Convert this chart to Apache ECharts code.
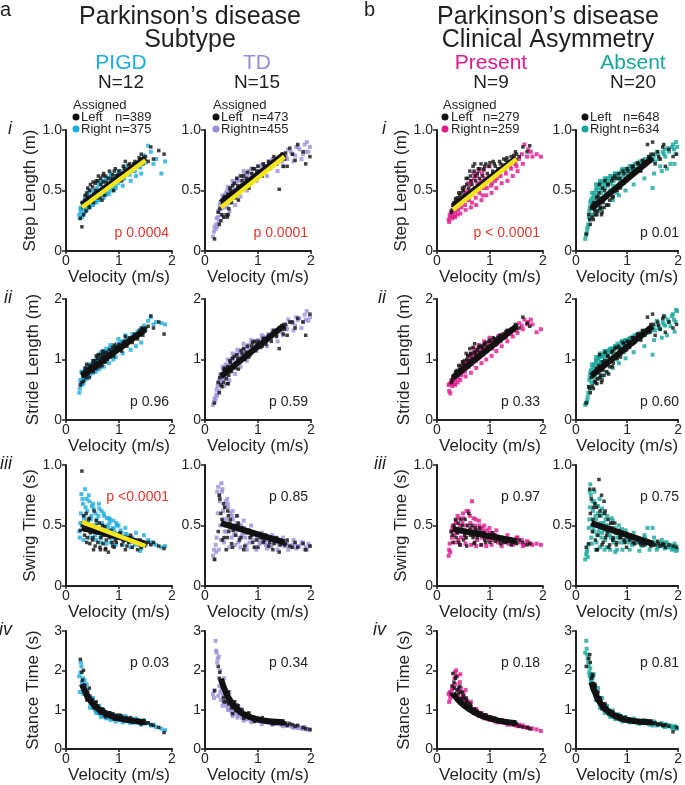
<!DOCTYPE html>
<html><head><meta charset="utf-8">
<script src="https://cdn.jsdelivr.net/npm/echarts@6/dist/echarts.min.js"></script>
<style>html,body{margin:0;padding:0;background:#fff}#c{width:685px;height:785px}</style>
</head><body><div id="c"></div><script>
// ---------------- DATA ----------------
const groupNames = ['PIGD', 'TD', 'Present', 'Absent'];
const groupN = [12, 15, 9, 20];
const nLeft = [389, 473, 279, 648];
const nRight = [375, 455, 259, 634];
const velTicks = [0, 1, 2];

// PIGD – Left (black)
const pigdL_v = [0.27,0.30,0.32,0.35,0.38,0.40,0.42,0.45,0.48,0.50, 0.53,0.55,0.58,0.60,0.63,0.65,0.68,0.70,0.73,0.75, 0.78,0.80,0.85,0.88,0.90,0.95,1.00,1.05,1.10,1.15, 1.20,1.25,1.30,1.35,1.40,1.45,1.50,1.60,1.75,1.85];
const pigdL_step = [0.27,0.20,0.36,0.42,0.33,0.45,0.38,0.50,0.42,0.53, 0.47,0.56,0.44,0.58,0.50,0.60,0.42,0.57,0.46,0.62, 0.52,0.60,0.56,0.63,0.50,0.62,0.66,0.58,0.68,0.66, 0.72,0.68,0.74,0.70,0.76,0.72,0.78,0.86,0.83,0.80];
const pigdL_stride = [0.58,0.62,0.72,0.80,0.70,0.85,0.76,0.90,0.80,0.93, 0.86,0.98,0.85,1.02,0.92,1.08,0.90,1.05,0.96,1.12, 1.00,1.10,1.08,1.20,1.05,1.18,1.25,1.14,1.30,1.22, 1.36,1.28,1.42,1.34,1.48,1.40,1.52,1.72,1.62,1.42];
const pigdL_swing = [0.46,0.95,0.52,0.42,0.60,0.40,0.55,0.35,0.50,0.38, 0.62,0.33,0.47,0.36,0.52,0.30,0.44,0.35,0.49,0.31, 0.42,0.28,0.46,0.33,0.41,0.36,0.43,0.34,0.39,0.33, 0.40,0.32,0.36,0.30,0.38,0.33,0.35,0.34,0.33,0.31];
const pigdL_stance = [2.28,1.95,1.60,1.62,1.40,1.45,1.30,1.35,1.20,1.25, 1.10,1.18,1.02,1.10,0.98,1.02,0.92,1.00,0.90,0.95, 0.86,0.92,0.85,0.90,0.82,0.86,0.80,0.84,0.76,0.80, 0.74,0.76,0.70,0.74,0.68,0.70,0.66,0.62,0.55,0.42];
const pigdL_v2 = [0.31,0.36,0.41,0.46,0.51,0.56,0.61,0.66,0.71,0.76, 0.82,0.87,0.93,0.98,1.08,1.18,1.28,1.38,1.48,1.55];
const pigdL_step2 = [0.40,0.46,0.52,0.55,0.57,0.50,0.62,0.55,0.64,0.57, 0.66,0.60,0.68,0.63,0.70,0.71,0.72,0.77,0.75,0.74];
const pigdL_stride2 = [0.78,0.86,0.82,0.88,0.98,0.94,1.08,1.02,1.10,1.06, 1.16,1.14,1.20,1.22,1.28,1.32,1.36,1.44,1.50,1.55];
const pigdL_swing2 = [0.50,0.46,0.52,0.44,0.40,0.50,0.45,0.40,0.42,0.38, 0.40,0.36,0.38,0.40,0.37,0.36,0.38,0.34,0.33,0.36];
const pigdL_stance2 = [1.75,1.50,1.40,1.28,1.18,1.08,1.04,0.96,0.94,0.90, 0.86,0.83,0.82,0.80,0.78,0.74,0.72,0.70,0.68,0.67];
const pigdL_v3 = [0.33,0.39,0.44,0.52,0.57,0.64,0.69,0.74,0.83,0.91, 1.02,1.12,1.22,1.42,1.65];
const pigdL_step3 = [0.30,0.48,0.36,0.40,0.58,0.44,0.62,0.50,0.54,0.66, 0.62,0.74,0.66,0.80,0.76];
const pigdL_stride3 = [0.64,0.92,0.70,0.80,1.06,0.88,1.14,0.96,1.04,1.24, 1.16,1.38,1.30,1.52,1.52];
const pigdL_swing3 = [0.58,0.36,0.56,0.30,0.54,0.32,0.50,0.30,0.44,0.32, 0.44,0.30,0.42,0.32,0.36];
const pigdL_stance3 = [2.00,1.25,1.55,1.05,1.20,0.92,1.02,0.82,0.92,0.76, 0.86,0.72,0.80,0.64,0.60];
// PIGD – Right (cyan)
const pigdR_v = [0.25,0.28,0.30,0.32,0.34,0.36,0.38,0.40,0.42,0.44, 0.46,0.48,0.50,0.52,0.55,0.58,0.60,0.62,0.65,0.68, 0.70,0.72,0.75,0.78,0.80,0.83,0.86,0.90,0.93,0.96, 1.00,1.05,1.10,1.15,1.20,1.25,1.30,1.35,1.40,1.45, 1.50,1.55,1.65,1.80];
const pigdR_step = [0.30,0.33,0.28,0.38,0.35,0.42,0.37,0.44,0.40,0.47, 0.39,0.45,0.42,0.50,0.44,0.52,0.45,0.55,0.47,0.52, 0.48,0.58,0.50,0.55,0.52,0.60,0.55,0.58,0.54,0.62, 0.58,0.63,0.60,0.66,0.63,0.70,0.66,0.72,0.69,0.75, 0.73,0.87,0.72,0.64];
const pigdR_stride = [0.45,0.62,0.58,0.74,0.68,0.82,0.72,0.86,0.78,0.92, 0.80,0.90,0.84,0.98,0.88,1.02,0.92,1.08,0.96,1.06, 0.98,1.14,1.02,1.12,1.05,1.20,1.10,1.18,1.12,1.26, 1.18,1.30,1.24,1.36,1.30,1.42,1.36,1.46,1.44,1.52, 1.50,1.64,1.58,1.60];
const pigdR_swing = [0.45,0.60,0.50,0.68,0.55,0.80,0.48,0.62,0.52,0.70, 0.45,0.58,0.50,0.64,0.42,0.55,0.48,0.68,0.40,0.52, 0.46,0.58,0.42,0.50,0.44,0.55,0.40,0.47,0.43,0.50, 0.40,0.44,0.38,0.42,0.36,0.40,0.34,0.38,0.29,0.36, 0.34,0.38,0.35,0.32];
const pigdR_stance = [1.85,2.20,1.70,1.80,1.50,1.60,1.35,1.40,1.25,1.30, 1.15,1.20,1.08,1.12,0.98,1.05,0.92,0.98,0.88,0.95, 0.85,0.92,0.82,0.90,0.80,0.86,0.78,0.84,0.76,0.82, 0.74,0.80,0.72,0.76,0.70,0.74,0.68,0.72,0.66,0.70, 0.65,0.66,0.62,0.52];
const pigdR_v2 = [0.27,0.31,0.35,0.37,0.41,0.43,0.47,0.49,0.53,0.56, 0.59,0.61,0.64,0.67,0.69,0.74,0.77,0.79,0.82,0.85, 0.88,0.92,0.95,0.98,1.03,1.08,1.13,1.18,1.28,1.38];
const pigdR_step2 = [0.35,0.40,0.32,0.45,0.36,0.50,0.42,0.38,0.48,0.41, 0.50,0.42,0.56,0.46,0.58,0.53,0.47,0.60,0.50,0.63, 0.52,0.62,0.58,0.56,0.66,0.60,0.64,0.68,0.72,0.70];
const pigdR_stride2 = [0.66,0.78,0.66,0.84,0.76,0.90,0.82,0.86,0.94,0.86, 1.00,0.90,1.06,0.98,1.10,1.04,1.00,1.14,1.06,1.16, 1.10,1.22,1.16,1.20,1.28,1.22,1.32,1.30,1.40,1.48];
const pigdR_swing2 = [0.52,0.72,0.58,0.65,0.47,0.75,0.55,0.66,0.48,0.60, 0.52,0.58,0.45,0.62,0.50,0.44,0.56,0.48,0.52,0.42, 0.48,0.44,0.52,0.42,0.46,0.40,0.43,0.38,0.37,0.35];
const pigdR_stance2 = [1.95,1.65,1.75,1.45,1.50,1.30,1.22,1.28,1.08,1.02, 1.00,0.96,0.92,0.90,0.88,0.86,0.84,0.80,0.82,0.78, 0.80,0.76,0.78,0.74,0.75,0.72,0.72,0.70,0.68,0.67];
const pigdR_v3 = [0.26,0.29,0.33,0.39,0.45,0.51,0.57,0.63,0.66,0.71, 0.76,0.81,0.84,0.89,0.94,0.99,1.07,1.12,1.22,1.32, 1.42,1.47,1.60,1.70,1.87];
const pigdR_step3 = [0.27,0.36,0.30,0.34,0.36,0.38,0.40,0.42,0.58,0.44, 0.60,0.47,0.64,0.50,0.52,0.66,0.54,0.70,0.58,0.62, 0.64,0.79,0.82,0.76,0.74];
const pigdR_stride3 = [0.52,0.80,0.60,0.68,0.74,0.78,0.80,0.84,1.12,0.88, 1.18,0.94,1.24,1.00,1.04,1.34,1.10,1.40,1.16,1.22, 1.28,1.56,1.70,1.62,1.58];
const pigdR_swing3 = [0.40,0.76,0.38,0.72,0.40,0.68,0.38,0.64,0.36,0.60, 0.35,0.56,0.36,0.54,0.34,0.50,0.34,0.48,0.32,0.44, 0.31,0.42,0.36,0.34,0.33];
const pigdR_stance3 = [1.45,2.10,1.40,1.65,1.05,1.30,0.92,1.10,0.82,0.98, 0.78,0.92,0.74,0.88,0.70,0.86,0.68,0.84,0.66,0.78, 0.62,0.74,0.60,0.56,0.48];

// TD – Left (black)
const tdL_v = [0.18,0.25,0.28,0.30,0.33,0.35,0.38,0.40,0.43,0.45, 0.48,0.50,0.55,0.58,0.60,0.65,0.70,0.75,0.80,0.85, 0.90,0.95,1.00,1.05,1.10,1.15,1.20,1.25,1.30,1.35, 1.40,1.45,1.50,1.55,1.60,1.70,1.75,1.85,1.90,1.98];
const tdL_step = [0.10,0.32,0.35,0.25,0.38,0.28,0.42,0.30,0.47,0.35, 0.50,0.40,0.56,0.44,0.60,0.50,0.58,0.52,0.65,0.56, 0.68,0.60,0.70,0.63,0.72,0.66,0.74,0.70,0.78,0.72, 0.51,0.80,0.76,0.70,0.85,0.75,0.88,0.82,0.72,0.78];
const tdL_stride = [0.28,0.62,0.70,0.58,0.76,0.62,0.82,0.68,0.88,0.74, 0.95,0.80,1.05,0.86,1.08,0.95,1.10,1.00,1.22,1.08, 1.28,1.15,1.30,1.20,1.35,1.25,1.40,1.30,1.48,1.38, 1.18,1.55,1.50,1.40,1.62,1.52,1.68,1.62,1.40,1.75];
const tdL_swing = [0.22,0.45,0.72,0.60,0.38,0.68,0.50,0.30,0.62,0.45, 0.55,0.35,0.50,0.42,0.58,0.38,0.48,0.33,0.45,0.40, 0.36,0.44,0.32,0.40,0.36,0.42,0.33,0.38,0.35,0.40, 0.28,0.36,0.34,0.38,0.33,0.36,0.32,0.35,0.30,0.33];
const tdL_stance = [1.48,2.10,1.95,1.75,1.60,1.30,1.50,1.20,1.38,1.15, 1.25,1.05,1.20,0.98,1.12,0.92,1.00,0.86,0.90,0.80, 0.82,0.76,0.78,0.72,0.74,0.70,0.72,0.68,0.70,0.66, 0.68,0.64,0.66,0.60,0.64,0.58,0.60,0.55,0.52,0.50];
const tdL_v2 = [0.32,0.37,0.42,0.47,0.53,0.62,0.68,0.78,0.88,0.98, 1.12,1.22,1.32,1.42,1.52];
const tdL_step2 = [0.30,0.45,0.28,0.52,0.45,0.54,0.62,0.60,0.64,0.66, 0.70,0.72,0.74,0.78,0.81];
const tdL_stride2 = [0.55,0.86,0.60,0.98,0.88,1.02,1.15,1.12,1.22,1.26, 1.34,1.38,1.44,1.52,1.58];
const tdL_swing2 = [0.55,0.65,0.40,0.52,0.46,0.50,0.40,0.44,0.42,0.38, 0.38,0.36,0.37,0.34,0.35];
const tdL_stance2 = [1.65,1.55,1.32,1.28,1.10,1.02,0.94,0.86,0.80,0.76, 0.72,0.70,0.68,0.66,0.65];
const tdL_v3 = [0.27,0.36,0.44,0.52,0.63,0.73,0.83,0.93,1.08,1.28, 1.48,1.65];
const tdL_step3 = [0.22,0.44,0.30,0.54,0.42,0.62,0.52,0.68,0.62,0.74, 0.70,0.80];
const tdL_stride3 = [0.45,0.84,0.60,1.02,0.84,1.18,1.04,1.30,1.22,1.44, 1.42,1.62];
const tdL_swing3 = [0.75,0.40,0.58,0.32,0.52,0.30,0.46,0.32,0.40,0.30, 0.36,0.32];
const tdL_stance3 = [1.80,1.20,1.45,0.90,1.10,0.78,0.92,0.70,0.80,0.64, 0.68,0.62];
// TD – Right (purple)
const tdR_v = [0.15,0.17,0.18,0.20,0.22,0.25,0.28,0.30,0.32,0.35, 0.38,0.40,0.42,0.45,0.48,0.50,0.53,0.56,0.60,0.63, 0.66,0.70,0.74,0.78,0.82,0.86,0.90,0.95,1.00,1.05, 1.10,1.15,1.20,1.25,1.30,1.35,1.40,1.45,1.50,1.55, 1.62,1.70,1.78,1.85,1.92,1.98];
const tdR_step = [0.12,0.16,0.20,0.18,0.27,0.33,0.38,0.30,0.42,0.36, 0.45,0.40,0.50,0.43,0.52,0.46,0.55,0.48,0.58,0.52, 0.62,0.55,0.64,0.58,0.66,0.60,0.68,0.63,0.70,0.66, 0.72,0.68,0.74,0.70,0.76,0.72,0.78,0.74,0.80,0.76, 0.82,0.79,0.84,0.80,0.90,0.86];
const tdR_stride = [0.25,0.30,0.36,0.34,0.50,0.62,0.70,0.60,0.76,0.68, 0.84,0.74,0.90,0.80,0.96,0.86,1.00,0.90,1.06,0.98, 1.12,1.04,1.18,1.10,1.24,1.15,1.30,1.20,1.32,1.26, 1.38,1.30,1.42,1.35,1.48,1.40,1.52,1.45,1.58,1.50, 1.62,1.56,1.68,1.62,1.80,1.70];
const tdR_swing = [0.25,0.30,0.22,0.34,0.40,0.82,0.70,0.38,0.78,0.55, 0.65,0.45,0.72,0.50,0.60,0.40,0.55,0.45,0.52,0.36, 0.50,0.42,0.48,0.34,0.46,0.40,0.44,0.32,0.42,0.36, 0.40,0.34,0.38,0.32,0.40,0.36,0.34,0.38,0.33,0.36, 0.32,0.35,0.33,0.36,0.30,0.33];
const tdR_stance = [1.40,1.30,1.50,2.75,2.45,1.35,2.00,1.25,1.70,1.20, 1.45,1.10,1.30,1.00,1.18,0.95,1.08,0.90,1.00,0.85, 0.92,0.80,0.86,0.76,0.82,0.74,0.78,0.72,0.76,0.70, 0.72,0.68,0.70,0.66,0.68,0.64,0.66,0.62,0.64,0.60, 0.58,0.56,0.55,0.52,0.50,0.48];
const tdR_v2 = [0.21,0.24,0.27,0.29,0.31,0.34,0.37,0.39,0.41,0.44, 0.47,0.51,0.55,0.58,0.62,0.65,0.68,0.72,0.76,0.80, 0.84,0.88,0.93,0.98,1.03,1.08,1.13,1.18,1.23,1.33, 1.43,1.53,1.65,1.75,1.90];
const tdR_step2 = [0.22,0.28,0.34,0.40,0.35,0.44,0.38,0.48,0.36,0.46, 0.40,0.52,0.44,0.56,0.48,0.58,0.52,0.60,0.56,0.62, 0.58,0.64,0.60,0.66,0.62,0.68,0.66,0.70,0.68,0.73, 0.76,0.78,0.80,0.86,0.82];
const tdR_stride2 = [0.42,0.56,0.66,0.76,0.68,0.84,0.76,0.92,0.72,0.90, 0.82,1.02,0.90,1.08,0.98,1.12,1.04,1.16,1.12,1.20, 1.16,1.26,1.22,1.30,1.26,1.34,1.32,1.38,1.36,1.44, 1.50,1.54,1.60,1.65,1.66];
const tdR_swing2 = [0.28,0.60,0.75,0.50,0.85,0.62,0.45,0.70,0.55,0.65, 0.48,0.58,0.42,0.50,0.46,0.40,0.50,0.44,0.40,0.46, 0.36,0.42,0.38,0.40,0.35,0.38,0.36,0.39,0.34,0.36, 0.35,0.33,0.34,0.33,0.32];
const tdR_stance2 = [2.50,2.30,1.60,1.45,1.55,1.35,1.40,1.22,1.30,1.12, 1.15,1.02,1.05,0.95,0.96,0.88,0.90,0.82,0.84,0.78, 0.80,0.75,0.76,0.72,0.73,0.70,0.70,0.68,0.66,0.65, 0.62,0.60,0.57,0.54,0.51];
const tdR_v3 = [0.23,0.26,0.33,0.36,0.43,0.46,0.52,0.57,0.61,0.67, 0.73,0.79,0.87,0.97,1.07,1.17,1.27,1.37,1.47,1.57, 1.67,1.72,1.82,1.88,1.95];
const tdR_step3 = [0.20,0.24,0.46,0.28,0.53,0.33,0.58,0.38,0.60,0.45, 0.66,0.50,0.68,0.58,0.71,0.62,0.76,0.66,0.70,0.84, 0.74,0.86,0.76,0.88,0.82];
const tdR_stride3 = [0.40,0.48,0.88,0.56,1.00,0.66,1.10,0.76,1.16,0.88, 1.26,0.98,1.32,1.14,1.40,1.22,1.48,1.30,1.40,1.66, 1.48,1.70,1.52,1.74,1.64];
const tdR_swing3 = [0.78,0.30,0.80,0.36,0.68,0.32,0.62,0.34,0.58,0.32, 0.54,0.30,0.50,0.30,0.44,0.31,0.42,0.30,0.40,0.30, 0.38,0.31,0.36,0.30,0.35];
const tdR_stance3 = [2.20,2.35,1.10,1.80,1.00,1.45,0.84,1.20,0.80,1.02, 0.72,0.90,0.68,0.80,0.64,0.74,0.62,0.70,0.58,0.66, 0.54,0.60,0.52,0.56,0.50];

// Asymmetry present – Left (black)
const presL_v = [0.27,0.30,0.33,0.36,0.40,0.43,0.46,0.50,0.53,0.56, 0.60,0.63,0.66,0.70,0.73,0.76,0.80,0.83,0.86,0.90, 0.95,1.00,1.05,1.10,1.15,1.20,1.25,1.30,1.35,1.40, 1.45,1.50,1.55,1.62,1.70,1.75];
const presL_step = [0.32,0.38,0.36,0.42,0.40,0.46,0.43,0.50,0.46,0.55, 0.52,0.62,0.55,0.66,0.58,0.64,0.60,0.72,0.62,0.70, 0.64,0.73,0.66,0.70,0.68,0.72,0.71,0.75,0.74,0.78, 0.76,0.80,0.78,0.86,0.82,0.87];
const presL_stride = [0.62,0.70,0.74,0.78,0.76,0.84,0.82,0.92,0.90,1.00, 0.98,1.10,1.02,1.12,1.08,1.16,1.12,1.22,1.18,1.26, 1.22,1.32,1.28,1.34,1.36,1.40,1.38,1.46,1.44,1.50, 1.48,1.56,1.52,1.70,1.60,1.55];
const presL_swing = [0.45,0.36,0.48,0.40,0.52,0.34,0.47,0.38,0.55,0.33, 0.60,0.42,0.50,0.35,0.46,0.40,0.48,0.34,0.44,0.38, 0.42,0.36,0.44,0.37,0.41,0.35,0.40,0.36,0.38,0.34, 0.37,0.35,0.38,0.36,0.34,0.35];
const presL_stance = [1.40,1.92,1.55,1.85,1.40,1.60,1.28,1.35,1.15,1.22, 1.05,1.10,0.98,1.02,0.92,0.96,0.88,0.90,0.84,0.86, 0.80,0.82,0.76,0.78,0.72,0.74,0.70,0.72,0.66,0.68, 0.62,0.64,0.58,0.56,0.55,0.52];
const presL_v2 = [0.32,0.38,0.45,0.52,0.58,0.64,0.68,0.72,0.78,0.88, 0.98,1.08,1.18,1.32,1.45];
const presL_step2 = [0.40,0.44,0.48,0.53,0.60,0.58,0.70,0.62,0.68,0.67, 0.70,0.72,0.74,0.77,0.79];
const presL_stride2 = [0.72,0.82,0.90,0.98,1.06,1.08,1.20,1.12,1.20,1.24, 1.30,1.34,1.40,1.48,1.52];
const presL_swing2 = [0.50,0.44,0.55,0.42,0.50,0.45,0.40,0.48,0.42,0.44, 0.40,0.42,0.38,0.37,0.36];
const presL_stance2 = [1.70,1.50,1.45,1.28,1.18,1.08,1.00,0.98,0.92,0.86, 0.82,0.78,0.74,0.70,0.66];
const presL_v3 = [0.29,0.35,0.41,0.48,0.55,0.62,0.71,0.81,0.92,1.06, 1.26,1.48];
const presL_step3 = [0.34,0.43,0.48,0.52,0.60,0.66,0.72,0.68,0.72,0.74, 0.76,0.82];
const presL_stride3 = [0.66,0.80,0.90,0.96,1.10,1.18,1.26,1.22,1.28,1.36, 1.42,1.58];
const presL_swing3 = [0.42,0.55,0.36,0.50,0.40,0.47,0.36,0.45,0.36,0.40, 0.36,0.38];
const presL_stance3 = [1.60,1.80,1.55,1.45,1.30,1.15,1.00,0.92,0.86,0.78, 0.72,0.66];
// Asymmetry present – Right (magenta)
const presR_v = [0.22,0.25,0.28,0.30,0.33,0.36,0.40,0.43,0.46,0.50, 0.53,0.56,0.60,0.63,0.66,0.70,0.73,0.76,0.80,0.83, 0.86,0.90,0.94,0.98,1.02,1.06,1.10,1.15,1.20,1.25, 1.30,1.35,1.40,1.45,1.50,1.55,1.60,1.65,1.72,1.80, 1.88,1.96];
const presR_step = [0.26,0.28,0.30,0.33,0.29,0.36,0.34,0.40,0.36,0.44, 0.38,0.48,0.42,0.55,0.40,0.60,0.44,0.56,0.48,0.58, 0.46,0.60,0.52,0.62,0.54,0.64,0.58,0.66,0.62,0.68, 0.64,0.72,0.68,0.74,0.70,0.76,0.80,0.88,0.84,0.78, 0.80,0.78];
const presR_stride = [0.58,0.44,0.62,0.66,0.60,0.72,0.70,0.80,0.74,0.86, 0.80,0.94,0.88,1.02,0.92,1.08,0.98,1.12,1.04,1.18, 1.08,1.22,1.14,1.28,1.20,1.32,1.24,1.38,1.30,1.42, 1.36,1.48,1.42,1.52,1.48,1.60,1.56,1.66,1.62,1.58, 1.45,1.50];
const presR_swing = [0.25,0.28,0.40,0.50,0.42,0.54,0.38,0.50,0.45,0.56, 0.40,0.62,0.44,0.52,0.70,0.42,0.55,0.38,0.50,0.43, 0.48,0.40,0.46,0.38,0.44,0.40,0.42,0.36,0.40,0.37, 0.39,0.35,0.38,0.36,0.40,0.36,0.38,0.34,0.36,0.34, 0.35,0.34];
const presR_stance = [1.40,1.30,1.50,1.35,1.80,2.00,1.50,1.70,1.30,1.40, 1.18,1.25,1.05,1.12,0.98,1.02,0.92,0.95,0.85,0.90, 0.82,0.86,0.78,0.80,0.75,0.78,0.72,0.74,0.68,0.70, 0.66,0.68,0.62,0.64,0.60,0.62,0.58,0.56,0.55,0.52, 0.50,0.46];
const presR_v2 = [0.24,0.27,0.31,0.35,0.38,0.42,0.45,0.48,0.52,0.55, 0.58,0.62,0.65,0.68,0.72,0.75,0.78,0.82,0.85,0.88, 0.92,0.96,1.00,1.04,1.08,1.13,1.18,1.28,1.38,1.48];
const presR_step2 = [0.30,0.33,0.36,0.32,0.40,0.38,0.43,0.40,0.47,0.42, 0.50,0.46,0.58,0.50,0.52,0.62,0.50,0.55,0.64,0.52, 0.56,0.58,0.60,0.56,0.62,0.60,0.64,0.67,0.70,0.72];
const presR_stride2 = [0.60,0.66,0.70,0.66,0.78,0.76,0.86,0.80,0.92,0.86, 0.98,0.94,1.10,1.00,1.04,1.16,1.02,1.12,1.20,1.10, 1.16,1.20,1.26,1.18,1.28,1.26,1.34,1.40,1.46,1.52];
const presR_swing2 = [0.35,0.45,0.48,0.52,0.44,0.56,0.40,0.52,0.46,0.50, 0.44,0.58,0.48,0.42,0.50,0.46,0.42,0.48,0.40,0.45, 0.42,0.40,0.44,0.38,0.42,0.40,0.38,0.37,0.38,0.36];
const presR_stance2 = [1.45,1.38,1.55,1.65,1.85,1.45,1.55,1.35,1.25,1.20, 1.10,1.08,1.00,0.98,0.94,0.90,0.88,0.86,0.84,0.82, 0.80,0.78,0.76,0.74,0.73,0.72,0.70,0.67,0.64,0.61];
const presR_v3 = [0.23,0.29,0.34,0.39,0.44,0.49,0.54,0.59,0.64,0.69, 0.74,0.79,0.84,0.89,0.93,0.99,1.03,1.12,1.22,1.33, 1.43,1.52,1.62,1.70,1.77];
const presR_step3 = [0.24,0.27,0.28,0.30,0.31,0.50,0.34,0.56,0.36,0.64, 0.38,0.66,0.42,0.68,0.46,0.70,0.48,0.52,0.56,0.58, 0.62,0.66,0.72,0.78,0.82];
const presR_stride3 = [0.48,0.56,0.58,0.62,0.66,0.96,0.72,1.06,0.78,1.18, 0.86,1.24,0.94,1.30,1.00,1.36,1.06,1.14,1.22,1.30, 1.38,1.44,1.50,1.58,1.66];
const presR_swing3 = [0.30,0.48,0.36,0.58,0.34,0.60,0.35,0.62,0.34,0.56, 0.33,0.54,0.34,0.50,0.33,0.48,0.34,0.46,0.33,0.42, 0.34,0.40,0.33,0.37,0.35];
const presR_stance3 = [1.20,1.60,1.95,1.25,1.90,1.20,1.50,1.05,1.20,0.92, 1.02,0.84,0.92,0.78,0.86,0.74,0.80,0.68,0.74,0.62, 0.66,0.58,0.60,0.54,0.52];

// Asymmetry absent – Left (black)
const absL_v = [0.20,0.25,0.28,0.30,0.32,0.35,0.38,0.40,0.42,0.45, 0.48,0.50,0.53,0.56,0.60,0.63,0.66,0.70,0.73,0.76, 0.80,0.84,0.88,0.92,0.96,1.00,1.05,1.10,1.15,1.20, 1.25,1.30,1.35,1.40,1.45,1.50,1.55,1.60,1.65,1.70, 1.75,1.82,1.90,1.97];
const absL_step = [0.14,0.30,0.22,0.35,0.28,0.40,0.30,0.44,0.33,0.48, 0.36,0.30,0.40,0.50,0.38,0.55,0.42,0.58,0.45,0.62, 0.50,0.64,0.55,0.66,0.58,0.68,0.62,0.70,0.65,0.73, 0.68,0.75,0.72,0.88,0.74,0.90,0.72,0.82,0.76,0.86, 0.70,0.84,0.78,0.80];
const absL_stride = [0.28,0.55,0.45,0.70,0.56,0.78,0.62,0.85,0.68,0.90, 0.74,0.62,0.82,0.98,0.80,1.05,0.88,1.12,0.94,1.18, 1.02,1.22,1.10,1.28,1.15,1.30,1.20,1.36,1.28,1.42, 1.34,1.48,1.40,1.70,1.45,1.75,1.40,1.62,1.50,1.68, 1.45,1.62,1.52,1.58];
const absL_swing = [0.32,0.35,0.60,0.72,0.45,0.80,0.38,0.65,0.30,0.88, 0.50,0.75,0.36,0.60,0.42,0.55,0.34,0.48,0.40,0.52, 0.36,0.46,0.40,0.44,0.36,0.42,0.38,0.41,0.35,0.40, 0.36,0.38,0.34,0.37,0.35,0.36,0.34,0.37,0.33,0.35, 0.32,0.34,0.33,0.32];
const absL_stance = [2.10,2.30,2.20,1.80,1.90,1.55,1.60,1.35,1.40,1.20, 1.25,1.08,1.15,1.00,1.05,0.92,0.98,0.86,0.92,0.82, 0.88,0.80,0.84,0.76,0.80,0.74,0.76,0.72,0.74,0.70, 0.72,0.68,0.70,0.66,0.68,0.65,0.66,0.62,0.64,0.60, 0.62,0.58,0.44,0.55];
const absL_v2 = [0.33,0.37,0.43,0.47,0.52,0.55,0.58,0.62,0.68,0.72, 0.78,0.86,0.94,1.02,1.12,1.22,1.32,1.42,1.52,1.62];
const absL_step2 = [0.38,0.33,0.45,0.35,0.52,0.36,0.45,0.55,0.48,0.60, 0.52,0.60,0.64,0.66,0.70,0.72,0.74,0.78,0.80,0.78];
const absL_stride2 = [0.74,0.64,0.86,0.70,0.96,0.74,0.90,1.06,0.98,1.14, 1.06,1.18,1.26,1.30,1.36,1.42,1.46,1.52,1.58,1.56];
const absL_swing2 = [0.55,0.68,0.42,0.62,0.48,0.70,0.40,0.45,0.52,0.38, 0.44,0.40,0.38,0.42,0.36,0.38,0.35,0.36,0.34,0.35];
const absL_stance2 = [1.85,1.65,1.45,1.30,1.15,1.10,1.05,1.00,0.92,0.88, 0.84,0.80,0.78,0.76,0.74,0.72,0.70,0.68,0.66,0.64];
const absL_v3 = [0.27,0.34,0.41,0.46,0.51,0.57,0.64,0.71,0.79,0.87, 0.99,1.11,1.27,1.47,1.72];
const absL_step3 = [0.26,0.26,0.30,0.55,0.32,0.58,0.38,0.44,0.60,0.52, 0.58,0.68,0.66,0.80,0.88];
const absL_stride3 = [0.52,0.52,0.60,1.08,0.66,1.12,0.76,0.88,1.20,1.04, 1.16,1.36,1.32,1.58,1.72];
const absL_swing3 = [0.80,0.65,0.30,0.58,0.34,0.62,0.32,0.52,0.34,0.44, 0.32,0.40,0.34,0.33,0.34];
const absL_stance3 = [2.40,1.65,1.25,1.30,1.02,1.15,0.90,0.95,0.80,0.84, 0.74,0.73,0.70,0.66,0.60];
// Asymmetry absent – Right (teal)
const absR_v = [0.18,0.20,0.22,0.24,0.26,0.28,0.30,0.32,0.34,0.36, 0.38,0.40,0.42,0.44,0.46,0.48,0.50,0.52,0.55,0.58, 0.60,0.63,0.66,0.70,0.73,0.76,0.80,0.83,0.86,0.90, 0.94,0.98,1.02,1.06,1.10,1.15,1.20,1.25,1.30,1.35, 1.40,1.45,1.50,1.55,1.60,1.65,1.70,1.75,1.80,1.85, 1.90,1.95,1.98];
const absR_step = [0.10,0.13,0.18,0.22,0.33,0.40,0.30,0.44,0.36,0.48, 0.34,0.52,0.40,0.55,0.38,0.50,0.57,0.44,0.58,0.47, 0.56,0.60,0.50,0.62,0.54,0.64,0.48,0.62,0.58,0.67, 0.56,0.68,0.62,0.70,0.64,0.72,0.68,0.74,0.70,0.76, 0.73,0.78,0.76,0.74,0.80,0.70,0.82,0.78,0.85,0.72, 0.88,0.80,0.86];
const absR_stride = [0.25,0.28,0.32,0.45,0.66,0.78,0.62,0.86,0.72,0.92, 0.70,0.98,0.80,1.02,0.78,0.96,1.06,0.88,1.10,0.94, 1.08,1.14,1.00,1.18,1.06,1.22,1.00,1.20,1.14,1.30, 1.12,1.32,1.22,1.36,1.26,1.40,1.34,1.44,1.38,1.48, 1.44,1.52,1.50,1.48,1.58,1.50,1.62,1.56,1.66,1.55, 1.75,1.62,1.80];
const absR_swing = [0.22,0.26,0.30,0.34,0.55,0.84,0.40,0.70,0.48,0.78, 0.58,0.36,0.66,0.45,0.72,0.52,0.40,0.60,0.46,0.55, 0.32,0.50,0.42,0.56,0.38,0.48,0.30,0.45,0.40,0.47, 0.36,0.44,0.39,0.42,0.34,0.40,0.36,0.38,0.33,0.40, 0.48,0.36,0.34,0.36,0.32,0.35,0.33,0.36,0.32,0.34, 0.31,0.33,0.30];
const absR_stance = [2.45,2.75,2.40,2.20,1.95,2.05,1.70,1.80,1.50,1.60, 1.35,1.45,1.25,1.30,1.15,1.22,1.08,1.12,1.00,1.05, 0.95,0.98,0.88,0.92,0.84,0.88,0.80,0.84,0.78,0.80, 0.75,0.78,0.73,0.76,0.71,0.74,0.70,0.72,0.68,0.70, 0.66,0.69,0.65,0.66,0.62,0.64,0.60,0.62,0.58,0.60, 0.55,0.57,0.53];
const absR_v2 = [0.21,0.25,0.27,0.29,0.31,0.33,0.35,0.37,0.39,0.41, 0.43,0.45,0.47,0.49,0.51,0.54,0.57,0.59,0.62,0.65, 0.68,0.71,0.74,0.78,0.81,0.85,0.88,0.92,0.96,1.00, 1.04,1.08,1.12,1.17,1.22,1.27,1.32,1.37,1.42,1.47, 1.52,1.62,1.72,1.82,1.92];
const absR_step2 = [0.15,0.28,0.36,0.42,0.38,0.40,0.46,0.42,0.50,0.46, 0.52,0.44,0.56,0.48,0.52,0.55,0.52,0.60,0.54,0.58, 0.56,0.60,0.58,0.60,0.64,0.60,0.65,0.62,0.66,0.64, 0.68,0.66,0.70,0.68,0.72,0.71,0.74,0.73,0.76,0.75, 0.78,0.76,0.80,0.82,0.84];
const absR_stride2 = [0.30,0.55,0.72,0.82,0.76,0.80,0.90,0.84,0.98,0.92, 1.02,0.88,1.06,0.96,1.04,1.08,1.02,1.14,1.08,1.16, 1.12,1.18,1.14,1.20,1.26,1.18,1.28,1.24,1.32,1.28, 1.34,1.32,1.38,1.36,1.42,1.40,1.46,1.44,1.50,1.48, 1.54,1.52,1.58,1.62,1.66];
const absR_swing2 = [0.28,0.48,0.65,0.75,0.50,0.62,0.45,0.68,0.55,0.42, 0.60,0.50,0.48,0.58,0.44,0.52,0.38,0.50,0.44,0.48, 0.40,0.46,0.36,0.44,0.40,0.42,0.36,0.43,0.38,0.40, 0.36,0.39,0.35,0.38,0.36,0.37,0.34,0.36,0.35,0.34, 0.35,0.33,0.34,0.32,0.32];
const absR_stance2 = [2.55,2.10,1.90,1.75,1.85,1.62,1.55,1.45,1.40,1.32, 1.30,1.22,1.18,1.12,1.08,1.04,0.98,0.96,0.92,0.88, 0.86,0.84,0.82,0.80,0.78,0.76,0.75,0.74,0.73,0.72, 0.72,0.70,0.70,0.69,0.68,0.68,0.67,0.66,0.65,0.64, 0.64,0.62,0.60,0.58,0.56];
const absR_v3 = [0.23,0.27,0.31,0.35,0.39,0.43,0.47,0.51,0.56,0.61, 0.67,0.72,0.77,0.84,0.91,0.97,1.05,1.13,1.24,1.34, 1.44,1.53,1.58,1.68,1.74,1.78,1.88,1.93,1.96,1.50];
const absR_step3 = [0.20,0.26,0.48,0.30,0.55,0.33,0.58,0.35,0.60,0.38, 0.62,0.42,0.64,0.46,0.68,0.50,0.70,0.55,0.72,0.60, 0.76,0.64,0.82,0.66,0.84,0.68,0.86,0.72,0.90,0.52];
const absR_stride3 = [0.38,0.52,0.92,0.62,1.04,0.68,1.10,0.72,1.14,0.78, 1.18,0.86,1.22,0.94,1.30,1.02,1.34,1.12,1.40,1.22, 1.48,1.32,1.64,1.36,1.70,1.40,1.72,1.46,1.82,1.08];
const absR_swing3 = [0.24,0.78,0.35,0.70,0.30,0.66,0.32,0.64,0.30,0.58, 0.30,0.54,0.28,0.50,0.30,0.46,0.30,0.44,0.29,0.42, 0.30,0.40,0.30,0.38,0.31,0.36,0.30,0.35,0.29,0.48];
const absR_stance3 = [2.30,1.85,1.55,1.90,1.25,1.55,1.05,1.30,0.92,1.10, 0.82,0.98,0.76,0.88,0.70,0.82,0.68,0.78,0.64,0.74, 0.62,0.70,0.60,0.66,0.56,0.62,0.54,0.58,0.52,0.60];

// Fitted lines (Left = black, Right = yellow where shown)
const pigdFitL = [
  [[0.3,0.38],[1.5,0.77]],
  [[0.3,0.73],[1.5,1.50]],
  [[0.3,0.48],[1.5,0.35]],
  [[0.3,1.65],[0.4,1.35],[0.5,1.16],[0.6,1.03],[0.7,0.94],[0.8,0.87],[0.9,0.82],[1.0,0.78],[1.2,0.73],[1.5,0.68]]
];
const pigdFitR = [[[0.3,0.36],[1.5,0.75]], null, [[0.3,0.53],[1.5,0.33]], null];
const tdFitL = [
  [[0.3,0.40],[1.5,0.80]],
  [[0.3,0.72],[1.5,1.57]],
  [[0.3,0.52],[1.5,0.36]],
  [[0.3,1.78],[0.4,1.42],[0.5,1.18],[0.6,1.02],[0.7,0.91],[0.8,0.84],[0.9,0.79],[1.0,0.75],[1.2,0.71],[1.5,0.68]]
];
const tdFitR = [[[0.3,0.36],[1.5,0.78]], null, null, null];
const presFitL = [
  [[0.3,0.37],[1.5,0.77]],
  [[0.3,0.70],[1.5,1.55]],
  [[0.3,0.47],[1.5,0.37]],
  [[0.3,1.42],[0.4,1.25],[0.5,1.12],[0.6,1.02],[0.7,0.94],[0.8,0.87],[0.9,0.82],[1.0,0.78],[1.2,0.71],[1.5,0.66]]
];
const presFitR = [[[0.3,0.34],[1.5,0.76]], null, null, null];
const absFitL = [
  [[0.3,0.35],[1.5,0.77]],
  [[0.3,0.73],[1.5,1.55]],
  [[0.3,0.52],[1.5,0.35]],
  [[0.3,1.70],[0.4,1.35],[0.5,1.13],[0.6,0.99],[0.7,0.89],[0.8,0.82],[0.9,0.77],[1.0,0.74],[1.2,0.70],[1.5,0.68]]
];
const absFitR = [null, null, null, null];

// p-values per panel row
const pigdP = ['p 0.0004', 'p 0.96', 'p <0.0001', 'p 0.03'];
const tdP = ['p 0.0001', 'p 0.59', 'p 0.85', 'p 0.34'];
const presP = ['p < 0.0001', 'p 0.33', 'p 0.97', 'p 0.18'];
const absP = ['p 0.01', 'p 0.60', 'p 0.75', 'p 0.81'];

// ---------------- LAYOUT / STYLE ----------------
const FONT = '"Liberation Sans", Arial, Helvetica, sans-serif';
const INK = '#231f20';
const groupColors = ['#1cade0', '#9a8ed9', '#e0188b', '#17a89a'];
const RED = '#e6362c', YELLOW = '#f3e41b';
const colLeft = [66, 205, 437, 576];
const rowTop = [130, 299, 465, 631];
const GW = 106, GH = 121;

const rowKeys = ['step', 'stride', 'swing', 'stance'];
const rowNames = ['Step Length (m)', 'Stride Length (m)', 'Swing Time (s)', 'Stance Time (s)'];
const rowMax = [1, 2, 1, 3];
const rowInterval = [0.5, 1, 0.5, 1];
const rowLabels = ['i', 'ii', 'iii', 'iv'];

const cat = (...a) => [].concat(...a);
const groups = [
  {L: {v: cat(pigdL_v, pigdL_v2, pigdL_v3), step: cat(pigdL_step, pigdL_step2, pigdL_step3), stride: cat(pigdL_stride, pigdL_stride2, pigdL_stride3), swing: cat(pigdL_swing, pigdL_swing2, pigdL_swing3), stance: cat(pigdL_stance, pigdL_stance2, pigdL_stance3)},
   R: {v: cat(pigdR_v, pigdR_v2, pigdR_v3), step: cat(pigdR_step, pigdR_step2, pigdR_step3), stride: cat(pigdR_stride, pigdR_stride2, pigdR_stride3), swing: cat(pigdR_swing, pigdR_swing2, pigdR_swing3), stance: cat(pigdR_stance, pigdR_stance2, pigdR_stance3)},
   fitL: pigdFitL, fitR: pigdFitR, p: pigdP},
  {L: {v: cat(tdL_v, tdL_v2, tdL_v3), step: cat(tdL_step, tdL_step2, tdL_step3), stride: cat(tdL_stride, tdL_stride2, tdL_stride3), swing: cat(tdL_swing, tdL_swing2, tdL_swing3), stance: cat(tdL_stance, tdL_stance2, tdL_stance3)},
   R: {v: cat(tdR_v, tdR_v2, tdR_v3), step: cat(tdR_step, tdR_step2, tdR_step3), stride: cat(tdR_stride, tdR_stride2, tdR_stride3), swing: cat(tdR_swing, tdR_swing2, tdR_swing3), stance: cat(tdR_stance, tdR_stance2, tdR_stance3)},
   fitL: tdFitL, fitR: tdFitR, p: tdP},
  {L: {v: cat(presL_v, presL_v2, presL_v3), step: cat(presL_step, presL_step2, presL_step3), stride: cat(presL_stride, presL_stride2, presL_stride3), swing: cat(presL_swing, presL_swing2, presL_swing3), stance: cat(presL_stance, presL_stance2, presL_stance3)},
   R: {v: cat(presR_v, presR_v2, presR_v3), step: cat(presR_step, presR_step2, presR_step3), stride: cat(presR_stride, presR_stride2, presR_stride3), swing: cat(presR_swing, presR_swing2, presR_swing3), stance: cat(presR_stance, presR_stance2, presR_stance3)},
   fitL: presFitL, fitR: presFitR, p: presP},
  {L: {v: cat(absL_v, absL_v2, absL_v3), step: cat(absL_step, absL_step2, absL_step3), stride: cat(absL_stride, absL_stride2, absL_stride3), swing: cat(absL_swing, absL_swing2, absL_swing3), stance: cat(absL_stance, absL_stance2, absL_stance3)},
   R: {v: cat(absR_v, absR_v2, absR_v3), step: cat(absR_step, absR_step2, absR_step3), stride: cat(absR_stride, absR_stride2, absR_stride3), swing: cat(absR_swing, absR_swing2, absR_swing3), stance: cat(absR_stance, absR_stance2, absR_stance3)},
   fitL: absFitL, fitR: absFitR, p: absP}
];

const zip = (xs, ys) => xs.map((x, i) => [x, ys[i]]);

const grid = [], xAxis = [], yAxis = [], series = [], graphic = [];

for (let r = 0; r < 4; r++) {
  for (let c = 0; c < 4; c++) {
    const idx = r * 4 + c;
    const g = groups[c];
    grid.push({left: colLeft[c], top: rowTop[r], width: GW, height: GH, containLabel: false});
    xAxis.push({
      type: 'value', gridIndex: idx, min: velTicks[0], max: velTicks[velTicks.length - 1], interval: 1,
      name: 'Velocity (m/s)', nameLocation: 'middle', nameGap: 15,
      nameTextStyle: {fontSize: 17, color: INK, fontFamily: FONT},
      axisLine: {show: true, onZero: false, lineStyle: {color: INK, width: 2}},
      axisTick: {show: true, length: 3, lineStyle: {color: INK, width: 1.5}},
      axisLabel: {fontSize: 14, color: INK, fontFamily: FONT, margin: 3},
      splitLine: {show: false}
    });
    const dec = rowInterval[r] < 1;
    yAxis.push({
      type: 'value', gridIndex: idx, min: 0, max: rowMax[r], interval: rowInterval[r],
      name: (c === 0 || c === 2) ? rowNames[r] : '', nameLocation: 'middle', nameGap: 24,
      nameTextStyle: {fontSize: 17, color: INK, fontFamily: FONT},
      axisLine: {show: true, onZero: false, lineStyle: {color: INK, width: 2}},
      axisTick: {show: true, length: 4, lineStyle: {color: INK, width: 1.5}},
      axisLabel: {fontSize: 14, color: INK, fontFamily: FONT, margin: 4,
        formatter: v => (v === 0 ? '0' : (dec ? v.toFixed(1) : String(v)))},
      splitLine: {show: false}
    });
    const key = rowKeys[r];
    series.push({type: 'scatter', xAxisIndex: idx, yAxisIndex: idx, symbol: 'rect', symbolSize: 4, silent: true,
      itemStyle: {color: groupColors[c]}, data: zip(g.R.v, g.R[key])});
    series.push({type: 'scatter', xAxisIndex: idx, yAxisIndex: idx, symbol: 'rect', symbolSize: 3.5, silent: true,
      itemStyle: {color: '#111'}, data: zip(g.L.v, g.L[key])});
    series.push({type: 'line', xAxisIndex: idx, yAxisIndex: idx, symbol: 'none', silent: true,
      smooth: r === 3 ? 0.4 : false, lineStyle: {color: '#111', width: 6}, data: g.fitL[r], z: 3});
    if (g.fitR[r]) {
      series.push({type: 'line', xAxisIndex: idx, yAxisIndex: idx, symbol: 'none', silent: true,
        lineStyle: {color: YELLOW, width: 4.5}, data: g.fitR[r], z: 4});
    }
    graphic.push({type: 'text', x: colLeft[c] + GW - 3,
      y: r < 2 ? rowTop[r] + GH - 18 : rowTop[r] + 32,
      style: {text: g.p[r], font: '14px ' + FONT, fill: g.fitR[r] ? RED : INK,
        textAlign: 'right', textVerticalAlign: 'middle'}, z: 10});
  }
}

// Row labels
const rowLabelX = [12, 386];
for (let r = 0; r < 4; r++) {
  rowLabelX.forEach(x => graphic.push({type: 'text', x: x, y: rowTop[r] - 1,
    style: {text: rowLabels[r], font: 'italic 18px ' + FONT, fill: INK, textAlign: 'right', textVerticalAlign: 'middle'}}));
}

// Titles
const tt = (text, x, y, size, color, align) => graphic.push({type: 'text', x: x, y: y,
  style: {text: text, font: size + 'px ' + FONT, fill: color || INK, textAlign: align || 'center', textVerticalAlign: 'middle'}});
tt('a', 0, 10, 20, INK, 'left');
tt('b', 364, 10, 20, INK, 'left');
tt('Parkinson\u2019s disease', 190, 17, 25);
tt('Subtype', 190, 40, 25);
tt('Parkinson\u2019s disease', 548, 17, 25);
tt('Clinical Asymmetry', 548, 40, 25);
const groupCX = [121, 257, 491, 633];
for (let c = 0; c < 4; c++) {
  tt(groupNames[c], groupCX[c], 63, 21, groupColors[c]);
  tt('N=' + groupN[c], groupCX[c], 83, 19, INK);
}

// Legends
const legCircle = [76, 216, 445, 585];
const legLabel = [81, 221, 451, 590];
const legN = [115, 252, 483, 623];
const legAssigned = [73, 213, 443, null];
for (let c = 0; c < 4; c++) {
  if (legAssigned[c] !== null) tt('Assigned', legAssigned[c], 105, 13, INK, 'left');
  [['Left', '#111', nLeft[c], 117], ['Right', groupColors[c], nRight[c], 129]].forEach(([lab, col, n, y]) => {
    graphic.push({type: 'circle', shape: {cx: legCircle[c], cy: y, r: 3.5}, style: {fill: col}});
    tt(lab, legLabel[c], y, 13, INK, 'left');
    tt('n=' + n, legN[c], y, 13, INK, 'left');
  });
}

const chart = echarts.init(document.getElementById('c'), null, {renderer: 'canvas'});
chart.setOption({
  animation: false,
  backgroundColor: '#fff',
  textStyle: {fontFamily: FONT},
  grid, xAxis, yAxis, series, graphic
});
</script></body></html>
